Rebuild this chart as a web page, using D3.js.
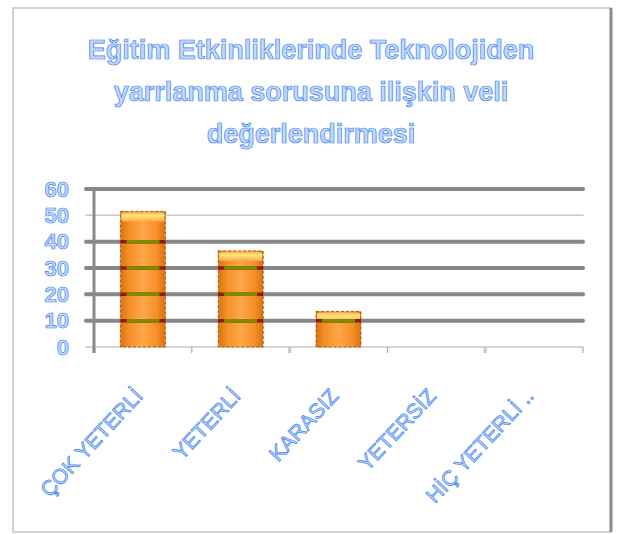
<!DOCTYPE html>
<html><head><meta charset="utf-8">
<script src="https://cdn.jsdelivr.net/npm/d3@7"></script>
<style>body{margin:0;background:#fff}svg{display:block}</style>
</head><body>
<svg id="c" width="617" height="534"></svg>
<script>
const titleLines = ["Eğitim Etkinliklerinde Teknolojiden", "yarrlanma sorusuna ilişkin veli", "değerlendirmesi"];
const categories = ["ÇOK YETERLİ", "YETERLİ", "KARASIZ", "YETERSİZ", "HİÇ YETERLİ .."];
const values = [51.5, 36.5, 13.5, 0, 0];
const yTicks = [0, 10, 20, 30, 40, 50, 60];
const thickTicks = [10, 20, 30, 40, 60];

const svg = d3.select("#c");
const defs = svg.append("defs");
const g1 = defs.append("linearGradient").attr("id","barG").attr("x1","0").attr("x2","1").attr("y1","0").attr("y2","0");
[["0%","#d8740f"],["20%","#f5902a"],["50%","#ffa648"],["80%","#f5902a"],["100%","#d8740f"]].forEach(s=>g1.append("stop").attr("offset",s[0]).attr("stop-color",s[1]));
const g2 = defs.append("linearGradient").attr("id","capG").attr("x1","0").attr("x2","0").attr("y1","0").attr("y2","1");
[["0%","#ffb040"],["35%","#ffe88a"],["100%","#ffa640"]].forEach(s=>g2.append("stop").attr("offset",s[0]).attr("stop-color",s[1]));

// frame
svg.append("rect").attr("x",13).attr("y",8).attr("width",598).attr("height",524).attr("fill","#fff").attr("stroke","#c4c4c4").attr("stroke-width",1.5);
svg.append("line").attr("x1",611).attr("x2",611).attr("y1",8).attr("y2",532).attr("stroke","#8a8a8a").attr("stroke-width",3);

const x0 = 94, x1 = 583, yTop = 189, yBot = 347;
const x = d3.scaleBand().domain(categories).range([x0, x1]).paddingInner(0.54).paddingOuter(0.27);
const xb = d3.scaleBand().domain(categories).range([x0, x1]);
const y = d3.scaleLinear().domain([0, 60]).range([yBot, yTop]);

// gridlines
svg.append("g").selectAll("line").data(yTicks).join("line")
  .attr("x1", x0 - 8).attr("x2", x1)
  .attr("y1", d=>y(d)).attr("y2", d=>y(d))
  .attr("stroke", d=>thickTicks.includes(d) ? "#878787" : "#c8c8c8")
  .attr("stroke-width", d=>thickTicks.includes(d) ? 4 : 1.5)
  .attr("stroke-linecap","round");

// category ticks
svg.append("g").selectAll("line").data(categories.concat(["__end"])).join("line")
  .attr("x1", d=> d==="__end" ? x1 : xb(d)).attr("x2", d=> d==="__end" ? x1 : xb(d))
  .attr("y1", yBot).attr("y2", yBot + 6)
  .attr("stroke", (d,i)=> i%2===1 ? "#a0a0a0" : "#c8c8c8").attr("stroke-width", (d,i)=> i%2===1 ? 1 : 3);

// y axis line
svg.append("line").attr("x1",x0).attr("x2",x0).attr("y1",yTop).attr("y2",yBot+6).attr("stroke","#8a8a8a").attr("stroke-width",3);

// bars
const bars = svg.append("g").selectAll("g").data(categories.map((c,i)=>({c, v: values[i]})).filter(d=>d.v>0)).join("g");
bars.append("rect").attr("x", d=>x(d.c)).attr("width", x.bandwidth())
  .attr("y", d=>y(d.v)).attr("height", d=>y(0)-y(d.v))
  .attr("fill","url(#barG)").attr("stroke","#b65a12").attr("stroke-width",1).attr("stroke-dasharray","3,2");
bars.append("rect").attr("x", d=>x(d.c)+1).attr("width", x.bandwidth()-2)
  .attr("y", d=>y(d.v)+1).attr("height", 9)
  .attr("fill","url(#capG)").attr("rx",2);
// gridlines seen through bars
bars.each(function(d){
  const sel = d3.select(this);
  thickTicks.filter(t=>t < d.v - 1).forEach(t=>{
    sel.append("line").attr("x1", x(d.c)).attr("x2", x(d.c)+x.bandwidth())
      .attr("y1", y(t)).attr("y2", y(t)).attr("stroke","#8a1a00").attr("stroke-width",3.5);
    sel.append("line").attr("x1", x(d.c)+6).attr("x2", x(d.c)+x.bandwidth()-6)
      .attr("y1", y(t)).attr("y2", y(t)).attr("stroke","#7f8a00").attr("stroke-width",3.5);
  });
});

const txt = s => s.attr("fill","#c2d9fb").attr("stroke","#3d82ee").attr("stroke-width",0.7).attr("font-family","Liberation Sans, Arial, sans-serif");

// y labels
svg.append("g").selectAll("text").data(yTicks).join("text")
  .attr("x", 69).attr("y", d=>y(d)).attr("dy","0.35em").attr("text-anchor","end")
  .attr("font-size",22).attr("font-weight","bold").text(d=>d).call(txt);

// x labels
svg.append("g").selectAll("text").data(categories).join("text")
  .attr("transform", d=>`translate(${xb(d)+xb.bandwidth()/2+1},${yBot+50}) rotate(-47)`)
  .attr("text-anchor","end").attr("font-size",21).text(d=>d).call(txt);

// title
svg.append("g").selectAll("text").data(titleLines).join("text")
  .attr("x", 311).attr("y", (d,i)=>59 + i*42).attr("text-anchor","middle")
  .attr("font-size",27).attr("font-weight","bold").text(d=>d).call(txt);
</script>
</body></html>
